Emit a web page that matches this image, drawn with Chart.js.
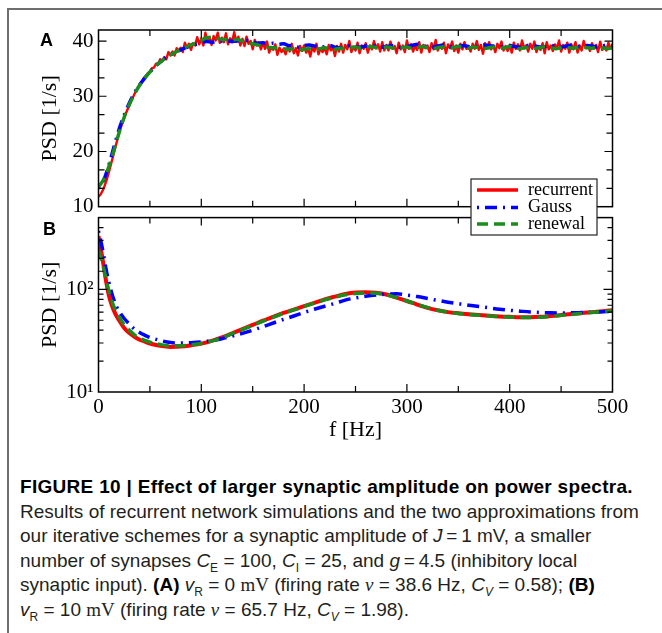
<!DOCTYPE html>
<html>
<head>
<meta charset="utf-8">
<script src="https://cdn.jsdelivr.net/npm/chart.js@4.4.1/dist/chart.umd.min.js"></script>
<style>
  html, body { margin: 0; padding: 0; background: #fff; }
  body { width: 662px; height: 633px; position: relative; overflow: hidden; }
  .frame { position: absolute; left: 7px; top: 8px; width: 720px; height: 700px;
           border-top: 2px solid #6e6e6e; border-left: 2px solid #6e6e6e; }
  canvas { position: absolute; left: 0; }
  #chartA { top: 0; z-index: 2; }
  #chartB { top: 200px; z-index: 1; }
  .panel { position: absolute; z-index: 3; font: bold 18px "Liberation Sans", Arial, sans-serif; color: #000; }
  .caption { position: absolute; left: 20px; top: 475px; white-space: nowrap;
             font: 19px/24.5px "Liberation Sans", Arial, sans-serif; color: #231f20; }
  .caption b { color: #000; }
  .caption .title { letter-spacing: 0.3px; }
  .caption sub { font-size: 12px; line-height: 0; }
  .rm { font-family: "Liberation Serif", "Times New Roman", serif; }
</style>
</head>
<body>
<div class="frame"></div>
<canvas id="chartA" width="662" height="240"></canvas>
<canvas id="chartB" width="662" height="260"></canvas>
<div class="panel" style="left:40px; top:30px;">A</div>
<div class="panel" style="left:43px; top:219px;">B</div>
<div class="caption">
<b class="title">FIGURE 10 | Effect of larger synaptic amplitude on power spectra.</b><br>
Results of recurrent network simulations and the two approximations from<br>
our iterative schemes for a synaptic amplitude of <i>J</i>&#8201;=&#8201;1 mV, a smaller<br>
number of synapses <i>C</i><sub>E</sub> = 100, <i>C</i><sub>I</sub> = 25, and <i>g</i>&#8201;=&#8201;4.5 (inhibitory local<br>
synaptic input). <b>(A)</b> <i>v</i><sub>R</sub> = 0 <span class="rm">mV</span> (firing rate <span class="rm"><i>ν</i></span> = 38.6 Hz, <i>C<sub>V</sub></i> = 0.58); <b>(B)</b><br>
<i>v</i><sub>R</sub> = 10 <span class="rm">mV</span> (firing rate <span class="rm"><i>ν</i></span> = 65.7 Hz, <i>C<sub>V</sub></i> = 1.98).
</div>
<script>
// ---- panel A: PSD [1/s], linear scale, f from 0 to 500 Hz ----
const seriesNames = ['recurrent', 'Gauss', 'renewal'];

const recurrentStepA = 2;   // Hz between samples
const recurrentA = [
  11.8, 12.2, 12.9, 13.8, 14.9, 16.2, 17.6, 19.0, 20.5, 21.9,
  23.3, 24.5, 25.6, 26.6, 27.5, 28.4, 29.3, 30.0, 30.8, 31.4,
  32.1, 32.5, 33.3, 33.5, 34.2, 34.4, 35.1, 35.2, 35.9, 35.9,
  36.7, 36.3, 37.1, 36.7, 38.0, 37.4, 38.1, 37.4, 38.7, 38.2,
  38.8, 38.0, 39.7, 38.8, 39.5, 38.4, 39.6, 39.2, 40.7, 39.4,
  40.5, 39.2, 41.5, 39.9, 40.7, 39.3, 40.9, 40.1, 41.5, 39.7,
  40.6, 39.8, 41.4, 39.4, 40.5, 39.8, 41.6, 39.9, 40.8, 39.2,
  40.4, 39.1, 40.8, 39.5, 40.0, 38.5, 40.2, 39.2, 39.8, 38.5,
  39.7, 38.6, 39.9, 37.9, 38.9, 38.4, 39.4, 37.5, 38.8, 38.0,
  38.6, 37.6, 38.9, 38.1, 39.5, 37.8, 38.7, 37.4, 39.1, 38.2,
  39.2, 37.9, 38.6, 37.2, 38.9, 38.1, 39.5, 37.6, 38.7, 38.0,
  38.8, 37.6, 39.3, 38.3, 38.9, 37.3, 39.1, 38.1, 39.5, 37.9,
  39.3, 38.5, 40.0, 38.0, 39.0, 38.3, 39.7, 37.8, 39.2, 38.6,
  39.6, 37.9, 39.2, 38.5, 40.0, 38.7, 39.4, 38.1, 39.8, 38.3,
  39.3, 38.3, 39.9, 38.6, 39.1, 37.8, 39.7, 38.5, 39.2, 38.0,
  40.1, 38.6, 39.4, 38.1, 39.2, 38.4, 39.8, 37.9, 39.3, 38.7,
  39.2, 38.0, 39.6, 38.5, 40.2, 38.3, 39.1, 38.6, 39.7, 37.8,
  39.4, 38.7, 39.9, 38.2, 39.2, 37.9, 39.5, 38.5, 39.8, 38.6,
  39.1, 38.1, 39.5, 38.6, 40.0, 38.4, 39.3, 37.7, 39.6, 38.7,
  39.8, 38.5, 39.2, 38.0, 39.5, 38.7, 39.9, 38.3, 39.1, 38.2,
  39.3, 37.9, 39.7, 38.6, 39.4, 38.3, 40.1, 38.7, 39.2, 38.1,
  39.5, 38.6, 39.9, 38.0, 39.1, 38.4, 39.6, 37.8, 39.8, 38.5,
  39.2, 38.2, 39.4, 38.7, 40.1, 38.1, 39.3, 38.6, 39.7, 37.9,
  39.4, 38.5, 39.8, 37.9, 39.2, 38.3, 40.0, 38.7, 39.3, 38.2,
  39.6, 38.6, 39.3, 38.0, 39.9, 38.4, 39.1, 38.3, 39.7, 38.7,
  38.9
];

const approxStepA = 5;
const gaussA = [
  13.3, 14.8, 17.5, 20.8, 24.0, 26.6, 28.8, 30.6, 32.1, 33.3,
  34.4, 35.4, 36.2, 36.9, 37.5, 38.0, 38.4, 38.8, 39.1, 39.4,
  39.7, 39.9, 39.8, 39.9, 40.0, 40.1, 39.9, 40.0, 40.2, 40.1,
  39.8, 39.6, 39.7, 39.5, 39.6, 39.4, 39.5, 39.2, 39.0, 38.9,
  39.2, 39.3, 39.1, 38.9, 39.0, 39.2, 38.9, 38.8, 39.0, 39.2,
  39.0, 38.9, 39.1, 39.3, 39.1, 38.9, 39.0, 39.2, 39.0, 38.8,
  39.0, 39.2, 39.4, 39.2, 39.0, 38.9, 39.1, 39.3, 39.1, 38.9,
  39.0, 39.2, 39.0, 38.9, 39.1, 39.3, 39.2, 39.0, 38.9, 39.1,
  39.2, 39.0, 38.9, 39.1, 39.3, 39.1, 38.9, 39.0, 39.2, 39.0,
  38.9, 39.1, 39.3, 39.1, 39.0, 39.2, 39.1, 38.9, 39.1, 39.3,
  39.2
];
const renewalA = [
  13.6, 14.9, 17.2, 20.2, 23.4, 26.2, 28.5, 30.4, 32.0, 33.3,
  34.4, 35.4, 36.2, 36.9, 37.5, 38.0, 38.5, 38.9, 39.3, 39.7,
  40.1, 40.6, 40.7, 40.5, 40.3, 40.3, 40.2, 40.3, 40.0, 39.8,
  39.5, 39.3, 39.0, 38.9, 38.8, 38.7, 38.6, 38.5, 38.6, 38.4,
  38.5, 38.6, 38.4, 38.6, 38.8, 38.6, 38.5, 38.7, 38.6, 38.8,
  38.9, 38.7, 38.8, 39.0, 38.8, 38.7, 38.9, 38.8, 38.6, 38.8,
  38.9, 38.7, 38.8, 39.0, 38.8, 38.6, 38.8, 38.9, 38.7, 38.8,
  39.0, 38.8, 38.7, 38.9, 38.8, 38.6, 38.8, 38.9, 38.7, 38.8,
  39.0, 38.8, 38.6, 38.8, 38.9, 38.7, 38.8, 39.0, 38.8, 38.6,
  38.8, 38.9, 38.7, 38.8, 39.0, 38.8, 38.7, 38.9, 38.8, 38.6,
  38.8
];

// ---- panel B: PSD [1/s], log scale ----
const freqB = [
  0, 2.5, 5, 7.5, 10, 12.5, 15, 17.5, 20,
  25, 30, 35, 40, 45, 50,
  60, 70, 80, 90, 100, 110, 120, 130, 140, 150,
  160, 170, 180, 190, 200, 210, 220, 230, 240, 250,
  260, 270, 280, 290, 300, 310, 320, 330, 340, 350,
  360, 370, 380, 390, 400, 410, 420, 430, 440, 450,
  460, 470, 480, 490, 500
];
const recurrentB = [
  330, 240, 170, 118, 88, 72, 62, 55, 50,
  42, 37.5, 34.5, 32.3, 31, 29.7,
  28.2, 27.5, 27.7, 28.5, 29.6, 31.5, 34, 37.3, 41, 45,
  49.5, 54, 59, 63.5, 68.5, 74, 80, 85, 90, 93,
  93.5, 92.5, 89, 83, 77, 71, 66, 62.5, 60, 58.5,
  57.3, 56.3, 55.3, 54.5, 54, 53.6, 53.6, 54, 55, 56.2,
  57.5, 58.7, 60, 61.3, 62.5
];
const gaussB = [
  370, 290, 215, 155, 118, 95, 79, 68, 61,
  52, 46, 41, 38, 35.8, 34,
  31.8, 30.3, 30, 30.2, 30.7, 31.7, 33, 35, 37.3, 40,
  43.3, 47, 51, 55, 59.5, 64, 68.5, 73, 78.5, 82.5,
  85.5, 88, 90, 90.5, 88, 85, 81.5, 78, 75, 72.5,
  70, 68, 66, 64, 62.5, 61.3, 60.2, 59.5, 59, 58.8,
  59, 59.5, 60, 60.5, 61
];
const renewalB = [
  240, 200, 160, 125, 98, 80, 68, 60, 54,
  45, 40, 36, 33.5, 31.8, 30.6,
  29, 28.2, 28.2, 28.8, 29.7, 31.3, 33.7, 37, 40.6, 44.5,
  49, 53.5, 58.5, 63, 68, 73.5, 79, 84, 88.5, 91,
  92, 91.5, 88.5, 83, 77, 71.5, 66.5, 62.5, 60, 58.3,
  57, 56, 55, 54.2, 53.7, 53.3, 53.2, 53.6, 54.6, 55.8,
  57, 58.3, 59.6, 60.9, 62
];

const colors = ['#ff0000', '#0000ff', '#1c8c1c'];
const dashes = [[], [2, 6, 12, 6], [11, 6]];
const serif = '"Liberation Serif", "Times New Roman", serif';

const stepPoints = (vals, step) => vals.map((v, i) => ({ x: i * step, y: v }));
const pairPoints = (xs, ys) => xs.map((x, i) => ({ x: x, y: ys[i] }));

// frame around the plot area plus inward ticks on all four sides
const frameTicks = {
  id: 'frameTicks',
  afterDatasetsDraw(chart, args, opts) {
    const { ctx, chartArea: a, scales } = chart;
    const xs = scales.x, ys = scales.y;
    ctx.save();
    ctx.strokeStyle = '#000';
    ctx.lineWidth = 1.2;
    ctx.beginPath();
    xs.ticks.forEach((t) => {
      const px = xs.getPixelForValue(t.value);
      if (px <= a.left + 1 || px >= a.right - 1) return;
      const len = t.value % 100 === 0 ? 8 : 6;
      ctx.moveTo(px, a.bottom); ctx.lineTo(px, a.bottom - len);
      ctx.moveTo(px, a.top); ctx.lineTo(px, a.top + len);
    });
    const yMarks = [];
    if (opts.log) {
      ys.ticks.forEach((t) => {
        const e = Math.log10(t.value);
        yMarks.push({ v: t.value, len: Math.abs(e - Math.round(e)) < 1e-9 ? 9 : 5 });
      });
    } else {
      const vals = ys.ticks.map((t) => t.value);
      const d = vals[1] - vals[0];
      vals.forEach((v) => {
        yMarks.push({ v: v, len: 8 });
        for (let k = 1; k < opts.ySub; k++) {
          const m = v + (k * d) / opts.ySub;
          if (m < ys.max) yMarks.push({ v: m, len: 6 });
        }
      });
    }
    yMarks.forEach((m) => {
      const py = ys.getPixelForValue(m.v);
      if (py <= a.top + 1 || py >= a.bottom - 1) return;
      ctx.moveTo(a.left, py); ctx.lineTo(a.left + m.len, py);
      ctx.moveTo(a.right, py); ctx.lineTo(a.right - m.len, py);
    });
    ctx.stroke();
    ctx.lineWidth = 1.5;
    ctx.strokeRect(a.left, a.top, a.right - a.left, a.bottom - a.top);
    ctx.restore();
  }
};

// boxed legend that sits over both panels
const boxLegend = {
  id: 'boxLegend',
  afterDraw(chart, args, o) {
    if (!o.show) return;
    const ctx = chart.ctx;
    ctx.save();
    ctx.fillStyle = '#fff';
    ctx.fillRect(o.left, o.top, o.width, o.height);
    ctx.strokeStyle = '#222';
    ctx.lineWidth = 1.2;
    ctx.strokeRect(o.left, o.top, o.width, o.height);
    chart.data.datasets.forEach((ds, i) => {
      const y = o.rowY[i];
      ctx.beginPath();
      ctx.setLineDash(ds.borderDash || []);
      ctx.strokeStyle = ds.borderColor;
      ctx.lineWidth = 3.5;
      ctx.moveTo(o.lineX0, y);
      ctx.lineTo(o.lineX1, y);
      ctx.stroke();
      ctx.setLineDash([]);
      ctx.fillStyle = '#000';
      ctx.font = '18px ' + serif;
      ctx.textBaseline = 'middle';
      ctx.fillText(ds.label, o.textX, y);
    });
    ctx.restore();
  }
};

function yTitle() {
  return { display: true, text: 'PSD [1/s]', color: '#000',
           font: { family: serif, size: 22 }, padding: { top: 37, bottom: 0 } };
}
const noGrid = { display: false, drawTicks: false };

new Chart(document.getElementById('chartA'), {
  type: 'line',
  data: {
    datasets: [
      { label: seriesNames[0], data: stepPoints(recurrentA, recurrentStepA), borderColor: colors[0],
        borderWidth: 2.4, borderDash: dashes[0], borderJoinStyle: 'round', tension: 0, order: 3 },
      { label: seriesNames[1], data: stepPoints(gaussA, approxStepA), borderColor: colors[1],
        borderWidth: 3.5, borderDash: dashes[1], tension: 0.3, order: 2 },
      { label: seriesNames[2], data: stepPoints(renewalA, approxStepA), borderColor: colors[2],
        borderWidth: 3.5, borderDash: dashes[2], tension: 0.3, order: 1 }
    ]
  },
  options: {
    responsive: false,
    animation: false,
    devicePixelRatio: 1,
    elements: { point: { radius: 0 } },
    layout: { padding: { top: 30, right: 49.5, bottom: 33.3, left: 0 } },
    plugins: {
      legend: { display: false },
      tooltip: { enabled: false },
      frameTicks: { ySub: 3, log: false },
      boxLegend: { show: true, left: 471, top: 179, width: 126, height: 56,
                   rowY: [190, 207.5, 224], lineX0: 477, lineX1: 518, textX: 528 }
    },
    scales: {
      x: { type: 'linear', min: 0, max: 500, grid: noGrid, border: { display: false },
           ticks: { stepSize: 50, display: false },
           afterFit: (s) => { s.height = 0; } },
      y: { type: 'linear', min: 10, max: 42, grid: noGrid, border: { display: false },
           ticks: { stepSize: 10, includeBounds: false, padding: 5, color: '#000',
                    font: { family: serif, size: 21 } },
           title: yTitle(),
           afterFit: (s) => { s.width = 98.5; } }
    }
  },
  plugins: [frameTicks, boxLegend]
});

new Chart(document.getElementById('chartB'), {
  type: 'line',
  data: {
    datasets: [
      { label: seriesNames[0], data: pairPoints(freqB, recurrentB), borderColor: colors[0],
        borderWidth: 4, borderDash: dashes[0], cubicInterpolationMode: 'monotone', order: 3 },
      { label: seriesNames[1], data: pairPoints(freqB, gaussB), borderColor: colors[1],
        borderWidth: 3.5, borderDash: dashes[1], cubicInterpolationMode: 'monotone', order: 2 },
      { label: seriesNames[2], data: pairPoints(freqB, renewalB), borderColor: colors[2],
        borderWidth: 3.5, borderDash: dashes[2], cubicInterpolationMode: 'monotone', order: 1 }
    ]
  },
  options: {
    responsive: false,
    animation: false,
    devicePixelRatio: 1,
    elements: { point: { radius: 0 } },
    layout: { padding: { top: 15.7, right: 49.5, bottom: 0, left: 0 } },
    plugins: {
      legend: { display: false },
      tooltip: { enabled: false },
      frameTicks: { log: true },
      boxLegend: { show: false }
    },
    scales: {
      x: { type: 'linear', min: 0, max: 500, grid: noGrid, border: { display: false },
           ticks: { stepSize: 50, autoSkip: false, maxRotation: 0, padding: 3, color: '#000',
                    font: { family: serif, size: 21 },
                    callback: (v) => (v % 100 === 0 ? String(v) : '') },
           title: { display: true, text: 'f [Hz]', color: '#000', font: { family: serif, size: 22 },
                    padding: { top: 0, bottom: 17 } },
           afterFit: (s) => { s.height = 68; } },
      y: { type: 'logarithmic', min: 10, max: 500, grid: noGrid, border: { display: false },
           ticks: { autoSkip: false, padding: 5, color: '#000', font: { family: serif, size: 21 },
                    callback: (v) => (v === 10 ? '10\u00b9' : v === 100 ? '10\u00b2' : '') },
           title: yTitle(),
           afterFit: (s) => { s.width = 98.5; } }
    }
  },
  plugins: [frameTicks, boxLegend]
});
</script>
</body>
</html>
